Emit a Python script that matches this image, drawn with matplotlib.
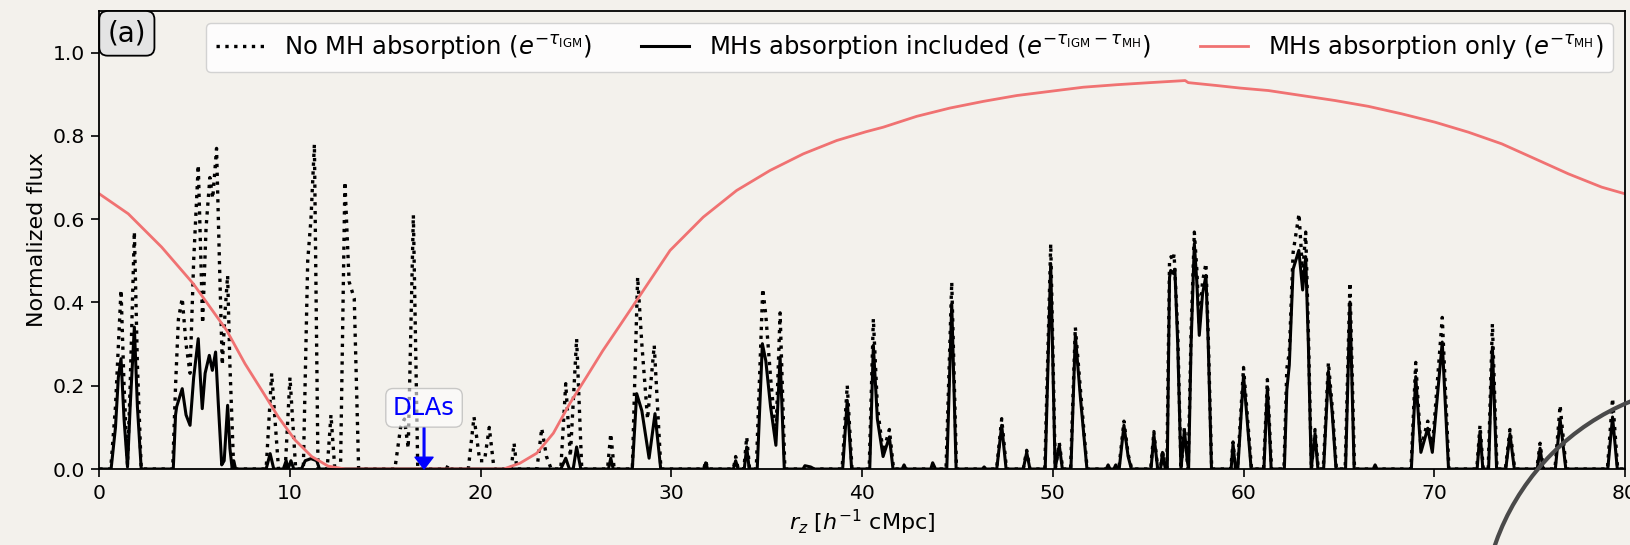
import matplotlib
matplotlib.use("Agg")
import matplotlib.pyplot as plt
import numpy as np
from matplotlib.patches import Ellipse

# ---- data ----
# dotted: no MH absorption, exp(-tau_IGM)
igm_x = [0, 0.6, 0.85, 1.14, 1.3, 1.48, 1.62, 1.84, 2.0, 2.2,
         3.85, 4.0, 4.15, 4.35, 4.55, 4.76, 4.95, 5.19, 5.3, 5.42, 5.6, 5.8, 5.95, 6.15, 6.3, 6.45, 6.6, 6.73, 6.85, 7.05,
         8.75, 9.04, 9.4, 9.75, 10.0, 10.3, 10.7, 10.93, 11.1, 11.28, 11.47,
         11.95, 12.15, 12.35, 12.65, 12.88, 13.1, 13.37, 13.6,
         15.5, 15.8, 16.0, 16.2, 16.47, 16.7, 18.2, 18.3, 18.4,
         19.35, 19.65, 19.95, 20.2, 20.45, 20.7, 21.6, 21.75, 21.9,
         22.95, 23.2, 23.45, 23.7, 24.2, 24.46, 24.7, 25.03, 25.3, 26.65, 26.82, 27.0,
         27.95, 28.23, 28.45, 28.75, 29.1, 29.45,
         31.7, 31.8, 31.9, 33.25, 33.37, 33.5, 33.8, 33.95, 34.1,
         34.45, 34.79, 34.95, 35.2, 35.48, 35.7, 35.95,
         38.95, 39.22, 39.47, 40.37, 40.59, 40.8, 41.1, 41.43, 41.65,
         44.4, 44.7, 44.95, 47.05, 47.32, 47.57, 48.45, 48.63, 48.8,
         49.58, 49.89, 50.13, 50.34, 50.52, 50.93, 51.18, 51.45, 51.8,
         53.46, 53.73, 53.95, 54.14, 55.13, 55.3, 55.5, 55.65, 55.75, 55.9,
         55.98, 56.12, 56.2, 56.3, 56.36, 56.55, 56.72, 56.9, 57.05, 57.1,
         57.25, 57.42, 57.55, 57.68, 57.85, 58.03, 58.15, 58.33,
         59.33, 59.45, 59.58, 59.68, 60.0, 60.42, 61.05, 61.25, 61.47,
         62.12, 62.27, 62.4, 62.6, 62.91, 63.1, 63.26, 63.4, 63.56, 63.75, 63.92,
         64.18, 64.45, 64.65, 64.87, 65.33, 65.58, 65.82,
         68.78, 69.03, 69.3, 69.66, 69.9, 70.42, 70.77,
         72.23, 72.4, 72.57, 72.83, 73.05, 73.29, 73.73, 73.97, 74.22,
         75.38, 75.55, 75.72, 76.33, 76.6, 76.92, 79.08, 79.35, 79.62, 80]
igm_y = [0, 0, 0.15, 0.43, 0.2, 0.01, 0.2, 0.57, 0.25, 0,
         0, 0.2, 0.36, 0.41, 0.3, 0.23, 0.5, 0.73, 0.55, 0.35, 0.58, 0.70, 0.65, 0.77, 0.5, 0.25, 0.38, 0.465, 0.25, 0,
         0, 0.23, 0, 0, 0.22, 0, 0, 0.50, 0.6, 0.78, 0,
         0, 0.13, 0, 0, 0.69, 0.45, 0.41, 0,
         0, 0.1, 0.12, 0.05, 0.61, 0, 0, 0.01, 0,
         0, 0.125, 0.02, 0.02, 0.10, 0, 0, 0.062, 0,
         0, 0.098, 0.03, 0, 0, 0.205, 0.03, 0.313, 0, 0, 0.085, 0,
         0, 0.461, 0.3, 0.12, 0.297, 0,
         0, 0.02, 0, 0, 0.03, 0, 0, 0.077, 0,
         0, 0.433, 0.37, 0.22, 0.08, 0.375, 0,
         0, 0.201, 0, 0, 0.361, 0.15, 0.04, 0.095, 0,
         0, 0.449, 0, 0, 0.121, 0, 0, 0.045, 0,
         0, 0.541, 0, 0.063, 0, 0, 0.341, 0.19, 0,
         0, 0.115, 0.035, 0, 0, 0.09, 0, 0, 0.045, 0,
         0, 0.50, 0.51, 0.5, 0.516, 0.33, 0, 0.1, 0.02, 0,
         0.33, 0.569, 0.48, 0.345, 0.45, 0.494, 0.32, 0,
         0, 0.065, 0, 0, 0.244, 0, 0, 0.215, 0,
         0, 0.241, 0.28, 0.52, 0.613, 0.47, 0.569, 0.33, 0, 0.095, 0,
         0, 0.256, 0.15, 0, 0, 0.448, 0,
         0, 0.256, 0.05, 0.115, 0.05, 0.364, 0,
         0, 0.105, 0, 0, 0.349, 0, 0, 0.095, 0,
         0, 0.062, 0, 0, 0.153, 0, 0, 0.17, 0, 0]

# solid: MH absorption included, exp(-tau_IGM - tau_MH)
mh_x = [0, 0.62, 0.85, 1.0, 1.14, 1.3, 1.48, 1.62, 1.84, 2.0, 2.2,
        3.88, 4.0, 4.06, 4.35, 4.55, 4.76, 4.95, 5.19, 5.3, 5.40, 5.55, 5.77, 5.93, 6.10, 6.25, 6.42, 6.55, 6.73, 6.85, 6.97, 7.05, 7.15,
        8.75, 8.96, 9.15, 9.65, 9.8, 9.9, 10.05, 10.2, 10.6, 10.8, 11.1, 11.4, 11.55,
        24.2, 24.46, 24.65, 24.85, 25.03, 25.25, 26.7, 26.82, 26.95,
        27.95, 28.18, 28.45, 28.83, 29.14, 29.44,
        31.7, 31.8, 31.9, 33.25, 33.37, 33.5, 33.82, 33.95, 34.08,
        34.5, 34.77, 34.95, 35.2, 35.48, 35.7, 35.92,
        36.9, 37.0, 37.3, 37.5, 38.98, 39.22, 39.45,
        40.4, 40.59, 40.8, 41.1, 41.43, 41.62,
        42.1, 42.2, 42.3, 43.6, 43.7, 43.85, 44.44, 44.7, 44.93,
        46.3, 46.4, 46.5, 47.06, 47.32, 47.55, 48.45, 48.63, 48.8,
        49.6, 49.89, 50.12, 50.34, 50.5, 50.95, 51.18, 51.45, 51.79,
        52.8, 52.9, 53.0, 53.2, 53.3, 53.4, 53.48, 53.73, 53.95, 54.12,
        55.15, 55.3, 55.5, 55.65, 55.75, 55.9,
        56.0, 56.12, 56.18, 56.3, 56.4, 56.55, 56.72, 56.9, 57.05, 57.12,
        57.25, 57.42, 57.55, 57.68, 57.85, 58.03, 58.15, 58.32,
        59.35, 59.45, 59.58, 59.7, 60.0, 60.4, 61.07, 61.25, 61.45,
        62.14, 62.27, 62.4, 62.6, 62.9, 63.1, 63.26, 63.4, 63.55, 63.75, 63.9,
        64.2, 64.45, 64.65, 64.85, 65.35, 65.58, 65.8, 66.8, 66.9, 67.0,
        68.8, 69.03, 69.3, 69.66, 69.9, 70.42, 70.75,
        72.25, 72.4, 72.55, 72.85, 73.05, 73.27, 73.75, 73.97, 74.2,
        75.4, 75.55, 75.7, 76.35, 76.6, 76.9, 79.1, 79.35, 79.6, 80]
mh_y = [0, 0, 0.1, 0.22, 0.265, 0.12, 0.005, 0.15, 0.341, 0.15, 0,
        0, 0.13, 0.15, 0.193, 0.13, 0.105, 0.22, 0.313, 0.22, 0.145, 0.23, 0.273, 0.237, 0.281, 0.15, 0.01, 0.02, 0.153, 0.05, 0, 0.02, 0,
        0, 0.037, 0, 0, 0.02, 0, 0.02, 0, 0, 0.02, 0.025, 0.02, 0,
        0, 0.026, 0, 0, 0.053, 0, 0, 0.026, 0,
        0, 0.181, 0.14, 0.026, 0.133, 0,
        0, 0.015, 0, 0, 0.02, 0, 0, 0.053, 0,
        0, 0.301, 0.26, 0.15, 0.057, 0.269, 0,
        0, 0.008, 0.005, 0, 0, 0.165, 0,
        0, 0.297, 0.12, 0.03, 0.077, 0,
        0, 0.01, 0, 0, 0.015, 0, 0, 0.397, 0,
        0, 0.005, 0, 0, 0.105, 0, 0, 0.04, 0,
        0, 0.493, 0, 0.057, 0, 0, 0.321, 0.17, 0,
        0, 0.01, 0, 0, 0.01, 0, 0, 0.105, 0.03, 0,
        0, 0.082, 0, 0, 0.04, 0,
        0, 0.46, 0.477, 0.47, 0.48, 0.3, 0, 0.094, 0.02, 0,
        0.3, 0.541, 0.45, 0.321, 0.42, 0.465, 0.3, 0,
        0, 0.06, 0, 0, 0.225, 0, 0, 0.197, 0,
        0, 0.19, 0.25, 0.48, 0.525, 0.43, 0.51, 0.3, 0, 0.085, 0,
        0, 0.235, 0.135, 0, 0, 0.401, 0, 0, 0.01, 0,
        0, 0.222, 0.04, 0.098, 0.04, 0.305, 0,
        0, 0.09, 0, 0, 0.293, 0, 0, 0.084, 0,
        0, 0.05, 0, 0, 0.12, 0, 0, 0.125, 0, 0]

# red: MH absorption only, exp(-tau_MH)
only_x = [0, 1.52, 3.27, 4.93, 6.68, 7.64, 8.52, 9.39, 10.26, 11.14, 12.0, 12.9,
          21.2, 22.06, 22.94, 23.81, 24.68, 25.56, 26.4, 27.3, 28.18, 29.93, 31.67,
          33.42, 35.17, 36.92, 38.67, 40.2, 41.11, 42.86, 44.61, 46.36, 48.11,
          49.85, 51.6, 53.35, 55.1, 56.94, 57.1, 58.6, 59.81, 61.3, 63.05, 64.8,
          66.55, 68.3, 70.04, 71.79, 73.54, 75.29, 77.03, 78.78, 80]
only_y = [0.661, 0.613, 0.533, 0.445, 0.333, 0.253, 0.189, 0.125, 0.07, 0.03, 0.007, 0,
          0, 0.014, 0.038, 0.086, 0.158, 0.222, 0.284, 0.345, 0.405, 0.525, 0.605,
          0.669, 0.717, 0.757, 0.789, 0.81, 0.821, 0.847, 0.867, 0.883, 0.897,
          0.907, 0.917, 0.923, 0.928, 0.933, 0.928, 0.921, 0.915, 0.909, 0.897, 0.885,
          0.871, 0.853, 0.833, 0.809, 0.781, 0.745, 0.709, 0.677, 0.661]

dla_x = 17.03

bg = '#f3f1ec'
fig = plt.figure(figsize=(16.3, 5.45), dpi=100, facecolor=bg)
ax = fig.add_axes([0.0609, 0.1394, 0.936, 0.8404])
ax.set_facecolor('none')

ax.plot(igm_x, igm_y, color='black', ls=':', lw=2.4,
        label=r'No MH absorption ($e^{-\tau_{\rm IGM}}$)')
ax.plot(mh_x, mh_y, color='black', lw=2.2,
        label=r'MHs absorption included ($e^{-\tau_{\rm IGM}-\tau_{\rm MH}}$)')
ax.plot(only_x, only_y, color='#f07272', lw=2.0,
        label=r'MHs absorption only ($e^{-\tau_{\rm MH}}$)')

ax.set_xlim(0, 80)
ax.set_ylim(0, 1.1)
ax.set_xticks(np.arange(0, 81, 10))
ax.set_yticks(np.arange(0, 1.01, 0.2))
ax.tick_params(labelsize=14.6, length=5.5, width=1.2, pad=5)
for s in ax.spines.values():
    s.set_linewidth(1.3)
ax.set_xlabel(r'$r_z$ [$h^{-1}$ cMpc]', fontsize=16)
ax.set_ylabel('Normalized flux', fontsize=16)

ax.legend(loc='upper right', ncol=3, fontsize=17.5, framealpha=0.85)

ax.annotate('DLAs', xy=(dla_x, 0.0), xytext=(dla_x, 0.147), color='blue',
            fontsize=17.5, ha='center', va='center',
            bbox=dict(boxstyle='round,pad=0.3', fc='white', ec='#aaaaaa', alpha=0.6),
            arrowprops=dict(facecolor='blue', edgecolor='blue', width=1.2,
                            headwidth=13, headlength=8.5, shrink=0))

ax.annotate('(a)', xy=(0, 1), xycoords='axes fraction', xytext=(6, -6),
            textcoords='offset points', ha='left', va='top', fontsize=20,
            bbox=dict(boxstyle='round,pad=0.3', fc='#e4e4e4', ec='black', lw=1.3))

# slide decoration arc in lower right corner
fig.add_artist(Ellipse((1.056, -0.143), 0.2937, 0.8785, transform=fig.transFigure,
                       fill=False, ec='#4a4a4a', lw=3, clip_on=False, zorder=10))

fig.savefig('out.png', dpi=100, facecolor=bg)
